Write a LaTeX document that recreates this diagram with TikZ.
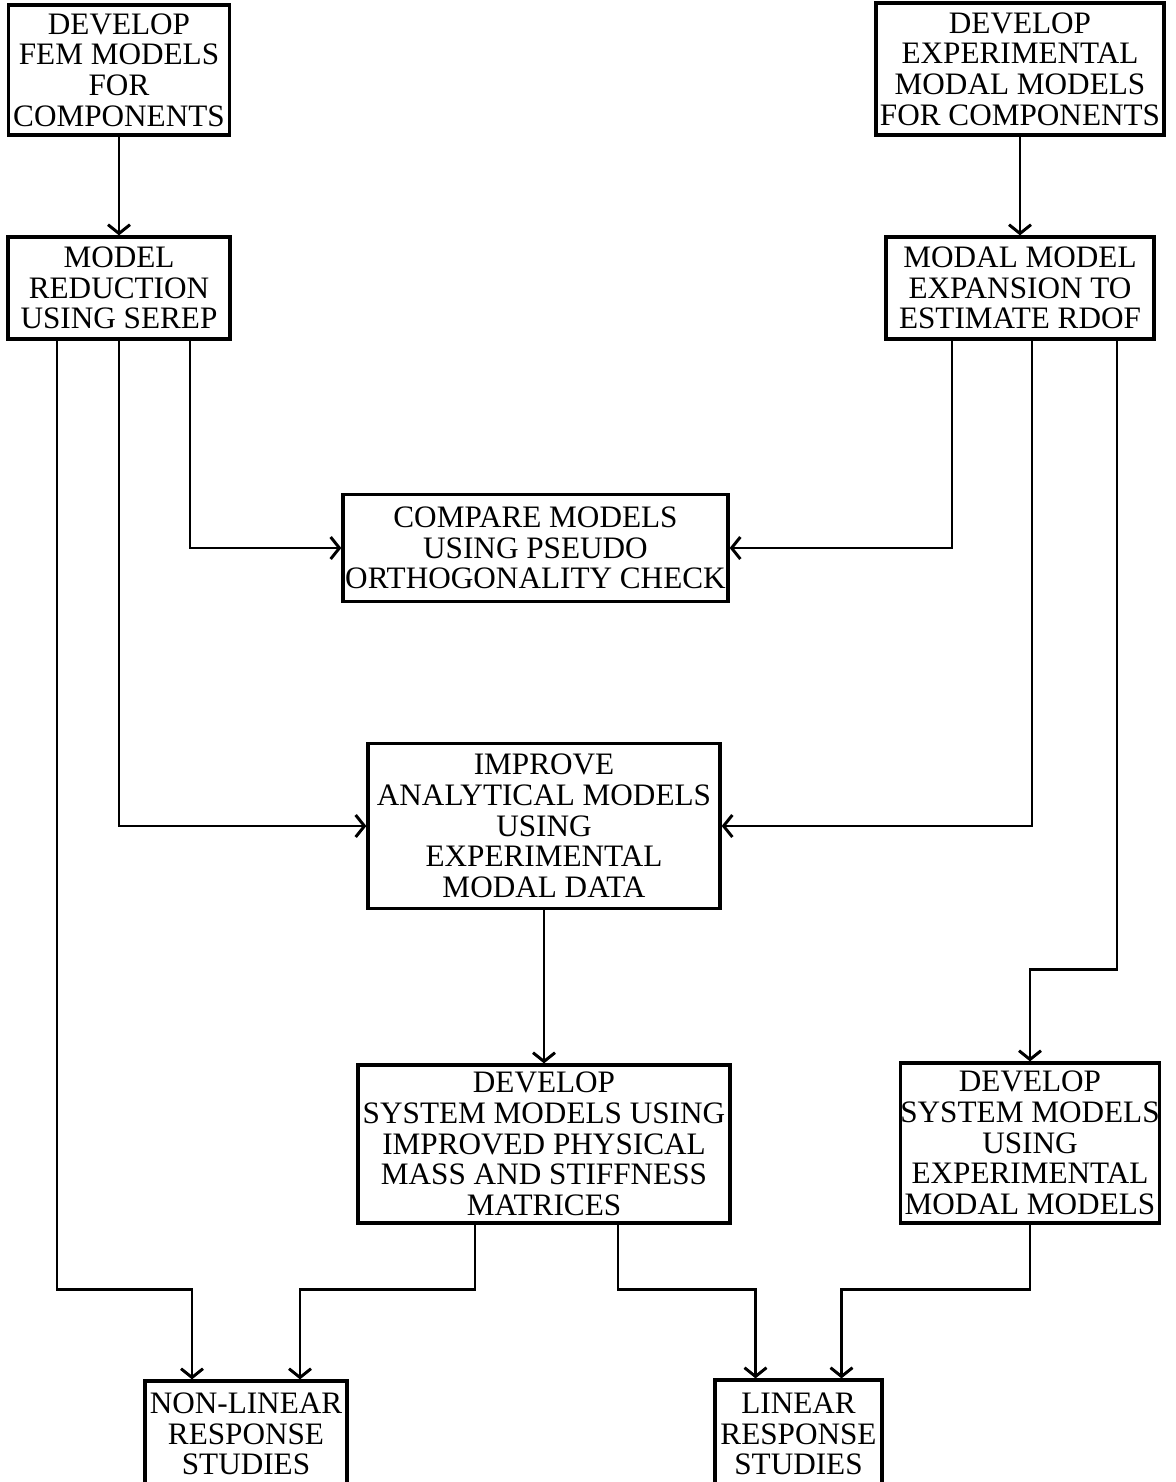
\documentclass[tikz,border=0pt]{standalone}
\usepackage{fontspec}
\setmainfont{Liberation Serif}
\usetikzlibrary{arrows.meta, calc}
\tikzset{
  stepbox/.style = {draw, line width=2.3pt, align=center, inner sep=0pt,
                    font=\fontsize{22.2}{21.8}\selectfont},
  flow/.style    = {-{Straight Barb[length=2.2mm, width=5.5mm]}, line width=2.1pt},
}

\begin{document}
\begin{tikzpicture}[x=0.025cm, y=-0.025cm]
  \useasboundingbox (0,0) rectangle (1176,1482);
  \clip (0,0) rectangle (1176,1482);
  % component models
  \node[stepbox, minimum width=5.525cm, minimum height=3.25cm] (fem) at (119,70)
    {DEVELOP\\FEM MODELS\\FOR\\COMPONENTS};
  \node[stepbox, minimum width=7.2cm, minimum height=3.3cm] (expm) at (1020,69)
    {DEVELOP\\EXPERIMENTAL\\MODAL MODELS\\FOR COMPONENTS};
  \node[stepbox, minimum width=5.55cm, minimum height=2.55cm] (serep) at (119,288)
    {MODEL\\REDUCTION\\USING SEREP};
  \node[stepbox, minimum width=6.7cm, minimum height=2.55cm] (expand) at (1020,288)
    {MODAL MODEL\\EXPANSION TO\\ESTIMATE RDOF};
  % middle column
  \node[stepbox, minimum width=9.625cm, minimum height=2.675cm] (compare) at (535.5,548)
    {COMPARE MODELS\\USING PSEUDO\\ORTHOGONALITY CHECK};
  \node[stepbox, minimum width=8.8cm, minimum height=4.125cm] (improve) at (544,826)
    {IMPROVE\\ANALYTICAL MODELS\\USING\\EXPERIMENTAL\\MODAL DATA};
  \node[stepbox, minimum width=9.3cm, minimum height=3.95cm] (sysphys) at (544,1144)
    {DEVELOP\\SYSTEM MODELS USING\\IMPROVED PHYSICAL\\MASS AND STIFFNESS\\MATRICES};
  \node[stepbox, minimum width=6.45cm, minimum height=4cm] (sysmodal) at (1030,1143)
    {DEVELOP\\SYSTEM MODELS\\USING\\EXPERIMENTAL\\MODAL MODELS};
  % response studies
  \node[stepbox, minimum width=5.05cm, minimum height=2.65cm] (nonlin) at (246,1434)
    {NON-LINEAR\\RESPONSE\\STUDIES};
  \node[stepbox, minimum width=4.175cm, minimum height=2.7cm] (lin) at (798.5,1434)
    {LINEAR\\RESPONSE\\STUDIES};

  \draw[flow] (fem) -- (serep);
  \draw[flow] (expm) -- (expand);
  \draw[flow] ($(serep.south)+(71,0)$) |- (compare.west);
  \draw[flow] ($(expand.south)+(-68,0)$) |- (compare.east);
  \draw[flow] (serep.south) |- (improve.west);
  \draw[flow] ($(expand.south)+(12,0)$) |- (improve.east);
  \draw[flow] (improve) -- (sysphys);
  \draw[flow] ($(expand.south)+(97,0)$) -- ++(0,629) -| (sysmodal.north);
  \draw[flow] ($(serep.south)+(-62,0)$) -- ++(0,949) -| ($(nonlin.north)+(-54,0)$);
  \draw[flow] ($(sysphys.south)+(-69,0)$) -- ++(0,65) -| ($(nonlin.north)+(54,0)$);
  \draw[flow] ($(sysphys.south)+(74,0)$) -- ++(0,65) -| ($(lin.north)+(-43,0)$);
  \draw[flow] (sysmodal.south) -- ++(0,65) -| ($(lin.north)+(43,0)$);
\end{tikzpicture}
\end{document}
